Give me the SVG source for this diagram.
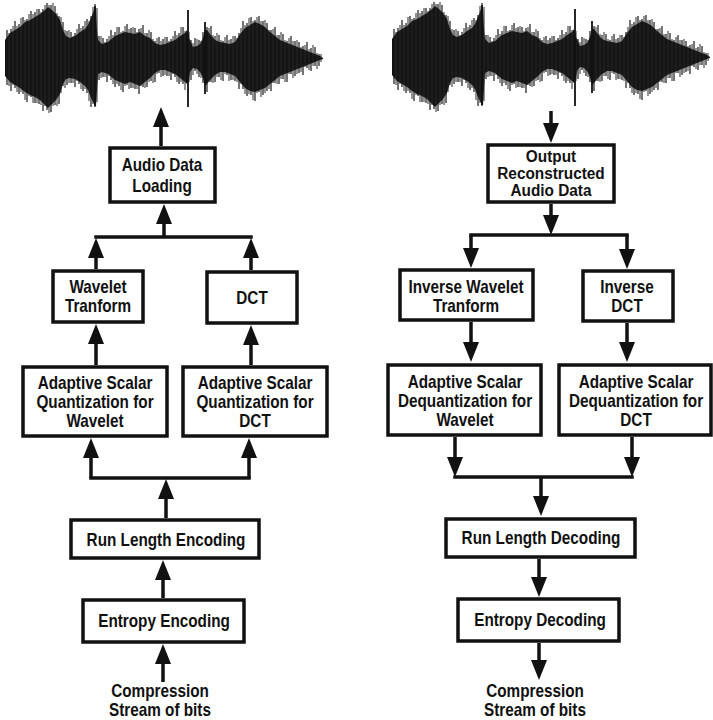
<svg xmlns="http://www.w3.org/2000/svg" xmlns:xlink="http://www.w3.org/1999/xlink" width="713" height="720" viewBox="0 0 713 720">
<style>
.box{fill:#fff;stroke:#111;stroke-width:3.5}
.c{fill:none;stroke:#111;stroke-width:3.5}
.t{font-family:"Liberation Sans",Arial,Helvetica,sans-serif;font-weight:bold;font-size:18px;fill:#111;text-anchor:middle}
.ts{font-size:16px}
.env{fill:#111}
.sp{fill:none;stroke:#1a1a1a;stroke-width:1.2}
.sp2{fill:none;stroke:#2a2a2a;stroke-width:1}
.sp3{fill:none;stroke:#111;stroke-width:1.8}
</style>
<defs>
<marker id="ah" markerUnits="userSpaceOnUse" markerWidth="20" markerHeight="16" refX="8" refY="8" orient="auto">
<path d="M0,0 L20,8 L0,16 z" fill="#111"/>
</marker>
<g id="wave">
<polygon class="env" points="5,40 10,33 15,30 20,27 25,22 30,20 35,17 40,14 45,10 48,7 52,10 56,14 60,20 63,30 66,36 70,38 75,36 80,32 85,29 88,25 91,18 94,10 96,8 97,30 98,40 102,44 108,42 115,36 120,34 125,32 130,33 135,34 140,32 145,36 150,38 155,43 160,45 165,44 170,42 175,40 180,36 185,33 187,30 189,38 190,40 193,47 197,46 200,44 203,38 205,30 207,30 210,34 215,40 220,42 225,43 230,44 235,42 240,34 245,28 250,25 255,22 260,24 265,27 270,32 275,36 280,40 285,42 290,44 295,46 300,48 305,50 310,52 315,54 320,56 323,58 323,59 320,60 315,62 310,64 305,66 300,68 295,70 290,72 285,74 280,76 275,80 270,84 265,88 260,90 255,92 250,91 245,88 240,82 235,76 230,74 225,72 220,72 215,75 210,80 207,84 205,86 203,78 200,72 197,69 193,68 190,72 189,80 187,84 185,82 180,78 175,74 170,72 165,70 160,70 155,73 150,78 145,82 140,86 135,84 130,82 125,84 120,82 115,80 108,74 102,72 98,74 97,90 96,106 94,104 91,98 88,90 85,86 80,82 75,79 70,78 66,79 63,84 60,94 56,100 52,104 48,108 45,105 40,100 35,97 30,95 25,92 20,88 15,85 10,82 5,76"/>
<path class="sp" d="M7 30V85M11 29V91M15 21V88M19 24V94M23 17V94M27 19V102M31 11V97M35 12V103M39 9V104M43 9V111M47 3V110M51 5V112M55 6V105M59 16V104M63 22V86M67 31V85M71 32V83M75 33V87M79 24V84M83 26V91M87 19V93M91 16V107M95 4V107M99 36V80M103 38V77M107 39V82M111 30V80M115 32V87M119 27V86M123 31V92M127 24V85M131 28V88M135 28V89M139 29V94M143 25V87M147 33V87M151 32V81M155 41V82M159 37V73M163 39V76M167 37V76M171 39V80M175 31V77M179 33V84M183 27V84M191 40V80M195 38V71M199 40V77M203 32V83M207 27V92M211 26V82M215 36V82M219 35V77M223 41V81M227 35V75M231 39V80M235 36V81M239 33V89M243 21V89M247 23V96M251 17V95M255 20V101M259 16V92M263 21V95M267 23V91M271 30V91M275 27V83M279 35V84M283 34V79M287 41V82M291 36V74M295 41V76M299 42V73M303 46V75M307 42V68M311 48V71M315 47V66M319 54V66"/>
<path class="sp2" d="M9 33V86M13 26V85M17 26V92M21 18V92M25 20V100M29 14V96M33 14V103M37 9V103M41 12V105M45 5V106M49 5V113M53 3V106M57 13V106M61 17V93M65 30V88M69 30V83M73 36V83M77 29V81M81 28V89M85 21V89M89 21V101M93 7V104M97 8V102M101 36V78M105 42V77M109 36V76M113 35V84M117 27V84M121 32V90M125 26V86M129 29V89M133 27V88M137 32V89M141 28V86M145 33V88M149 30V82M153 39V83M157 38V74M161 41V77M165 37V75M169 41V76M173 36V74M177 35V82M181 27V82M185 31V90M189 32V82M193 43V75M197 39V74M201 41V78M209 28V82M213 35V83M217 33V77M221 40V80M225 37V74M229 40V81M233 36V80M237 38V82M241 28V84M245 25V94M249 18V94M253 21V100M257 17V93M261 21V97M265 20V93M269 30V89M273 29V83M277 35V84M281 32V79M285 40V82M289 38V74M293 41V78M297 40V74M301 47V72M305 45V67M309 49V70M313 45V66M317 53V69M321 54V62"/>
<path class="sp3" d="M188 10V107M205 22V94M95 6V106"/>
</g>
</defs>

<g id="waveform-left"><use href="#wave" xlink:href="#wave"/></g>
<g id="waveform-right"><use href="#wave" xlink:href="#wave" x="387" y="-1"/></g>

<g id="connectors">
<path class="c" d="M161 146V119" marker-end="url(#ah)"/>
<path class="c" d="M164 237V216" marker-end="url(#ah)"/>
<path class="c" d="M94.25 237H252.75"/>
<path class="c" d="M96 269V250" marker-end="url(#ah)"/>
<path class="c" d="M251 270V250" marker-end="url(#ah)"/>
<path class="c" d="M96 365V336" marker-end="url(#ah)"/>
<path class="c" d="M251 365V337" marker-end="url(#ah)"/>
<path class="c" d="M89.25 478H250.75"/>
<path class="c" d="M91 478V450" marker-end="url(#ah)"/>
<path class="c" d="M249 478V450" marker-end="url(#ah)"/>
<path class="c" d="M166 518V491" marker-end="url(#ah)"/>
<path class="c" d="M163 598V572" marker-end="url(#ah)"/>
<path class="c" d="M163 682V656" marker-end="url(#ah)"/>

<path class="c" d="M551 111V131" marker-end="url(#ah)"/>
<path class="c" d="M551 204V223" marker-end="url(#ah)"/>
<path class="c" d="M469.25 235H628.75"/>
<path class="c" d="M471 235V256" marker-end="url(#ah)"/>
<path class="c" d="M627 235V257" marker-end="url(#ah)"/>
<path class="c" d="M471 322V350" marker-end="url(#ah)"/>
<path class="c" d="M627 323V350" marker-end="url(#ah)"/>
<path class="c" d="M455 437V465" marker-end="url(#ah)"/>
<path class="c" d="M632 437V465" marker-end="url(#ah)"/>
<path class="c" d="M453.25 477H633.75"/>
<path class="c" d="M541 477V504" marker-end="url(#ah)"/>
<path class="c" d="M539 559V585" marker-end="url(#ah)"/>
<path class="c" d="M539 643V668" marker-end="url(#ah)"/>
</g>

<g id="audio-data-loading">
<rect class="box" x="110" y="148" width="105" height="54"/>
<text class="t" transform="matrix(0.85 0 0 1 162 0)"><tspan x="0" y="171">Audio Data</tspan><tspan x="0" y="192">Loading</tspan></text>
</g>
<g id="wavelet-transform">
<rect class="box" x="53" y="271" width="90" height="51"/>
<text class="t" transform="matrix(0.85 0 0 1 98 0)"><tspan x="0" y="293">Wavelet</tspan><tspan x="0" y="312">Tranform</tspan></text>
</g>
<g id="dct">
<rect class="box" x="207" y="272" width="90" height="51"/>
<text class="t" transform="matrix(0.85 0 0 1 252 0)"><tspan x="0" y="304">DCT</tspan></text>
</g>
<g id="asq-wavelet">
<rect class="box" x="23" y="367" width="144" height="69"/>
<text class="t" transform="matrix(0.85 0 0 1 95 0)"><tspan x="0" y="389">Adaptive Scalar</tspan><tspan x="0" y="408">Quantization for</tspan><tspan x="0" y="427">Wavelet</tspan></text>
</g>
<g id="asq-dct">
<rect class="box" x="183" y="367" width="144" height="69"/>
<text class="t" transform="matrix(0.85 0 0 1 255 0)"><tspan x="0" y="389">Adaptive Scalar</tspan><tspan x="0" y="408">Quantization for</tspan><tspan x="0" y="427">DCT</tspan></text>
</g>
<g id="run-length-encoding">
<rect class="box" x="71" y="520" width="188" height="38"/>
<text class="t" transform="matrix(0.85 0 0 1 166 0)"><tspan x="0" y="546">Run Length Encoding</tspan></text>
</g>
<g id="entropy-encoding">
<rect class="box" x="83" y="600" width="161" height="42"/>
<text class="t" transform="matrix(0.85 0 0 1 164 0)"><tspan x="0" y="627">Entropy Encoding</tspan></text>
</g>
<g id="input-bits">
<text class="t" transform="matrix(0.85 0 0 1 160 0)"><tspan x="0" y="697">Compression</tspan><tspan x="0" y="716">Stream of bits</tspan></text>
</g>

<g id="output-reconstructed">
<rect class="box" x="488" y="145" width="126" height="57"/>
<text class="t ts" transform="matrix(0.96 0 0 1 551 0)"><tspan x="0" y="162">Output</tspan><tspan x="0" y="179">Reconstructed</tspan><tspan x="0" y="196">Audio Data</tspan></text>
</g>
<g id="inverse-wavelet">
<rect class="box" x="400" y="270" width="133" height="50"/>
<text class="t" transform="matrix(0.85 0 0 1 466 0)"><tspan x="0" y="293">Inverse Wavelet</tspan><tspan x="0" y="312">Tranform</tspan></text>
</g>
<g id="inverse-dct">
<rect class="box" x="583" y="271" width="90" height="50"/>
<text class="t" transform="matrix(0.85 0 0 1 627 0)"><tspan x="0" y="293">Inverse</tspan><tspan x="0" y="312">DCT</tspan></text>
</g>
<g id="asd-wavelet">
<rect class="box" x="388" y="365" width="153" height="70"/>
<text class="t" transform="matrix(0.85 0 0 1 465 0)"><tspan x="0" y="388">Adaptive Scalar</tspan><tspan x="0" y="407">Dequantization for</tspan><tspan x="0" y="426">Wavelet</tspan></text>
</g>
<g id="asd-dct">
<rect class="box" x="559" y="365" width="152" height="70"/>
<text class="t" transform="matrix(0.85 0 0 1 636 0)"><tspan x="0" y="388">Adaptive Scalar</tspan><tspan x="0" y="407">Dequantization for</tspan><tspan x="0" y="426">DCT</tspan></text>
</g>
<g id="run-length-decoding">
<rect class="box" x="446" y="519" width="189" height="38"/>
<text class="t" transform="matrix(0.85 0 0 1 541 0)"><tspan x="0" y="544">Run Length Decoding</tspan></text>
</g>
<g id="entropy-decoding">
<rect class="box" x="458" y="599" width="161" height="42"/>
<text class="t" transform="matrix(0.85 0 0 1 540 0)"><tspan x="0" y="626">Entropy Decoding</tspan></text>
</g>
<g id="output-bits">
<text class="t" transform="matrix(0.85 0 0 1 535 0)"><tspan x="0" y="697">Compression</tspan><tspan x="0" y="716">Stream of bits</tspan></text>
</g>
</svg>
